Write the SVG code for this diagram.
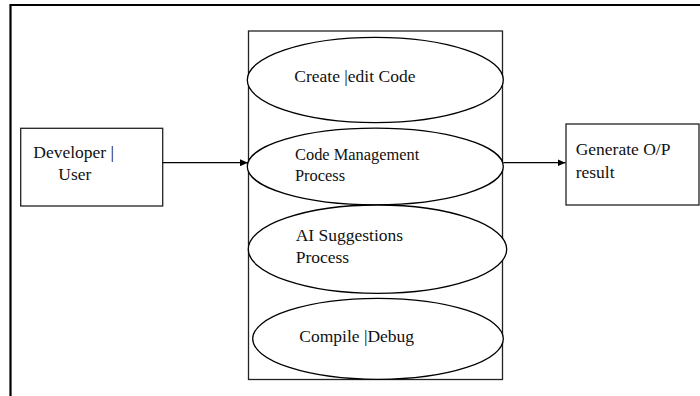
<svg xmlns="http://www.w3.org/2000/svg" width="700" height="396" viewBox="0 0 700 396">
  <style>
    .box { fill: #fff; stroke: #222; stroke-width: 1.3; }
    .proc { fill: #fff; stroke: #000; stroke-width: 1.3; }
    text { font-family: 'Liberation Serif', 'DejaVu Serif', serif; font-size: 17.5px; fill: #111; }
    .small { font-size: 16.4px; }
    .conn { stroke: #000; stroke-width: 1.3; fill: none; }
  </style>
  <defs>
    <marker id="head" viewBox="0 0 8 7" refX="8" refY="3.5" markerWidth="8" markerHeight="7" markerUnits="userSpaceOnUse" orient="auto">
      <path d="M0,0 L8,3.5 L0,7 Z" fill="#000"/>
    </marker>
  </defs>

  <rect width="700" height="396" fill="#fff"/>

  <!-- outer frame, open on the right and bottom -->
  <path d="M10.5,400 L10.5,5 L702,5" fill="none" stroke="#000" stroke-width="2.2"/>

  <!-- system boundary -->
  <g id="system">
    <rect class="box" x="248.5" y="31" width="254" height="348.5"/>
  </g>

  <g id="developer">
    <rect class="box" x="20.7" y="128.3" width="142" height="77.7"/>
    <text x="33.3" y="158" font-family="Liberation Serif, serif">Developer |</text>
    <text x="58.3" y="179.5" font-family="Liberation Serif, serif">User</text>
  </g>

  <g id="create-edit">
    <ellipse class="proc" cx="375.3" cy="80" rx="128" ry="42.7"/>
    <text x="294.3" y="82">Create |edit Code</text>
  </g>

  <g id="code-management">
    <ellipse class="proc" cx="375.3" cy="166.5" rx="128" ry="38.3"/>
    <text class="small" x="295" y="160">Code Management</text>
    <text class="small" x="295" y="180.5">Process</text>
  </g>

  <g id="ai-suggestions">
    <ellipse class="proc" cx="377.5" cy="249.2" rx="129.2" ry="44.2"/>
    <text x="295.7" y="240.7">AI Suggestions</text>
    <text x="295.7" y="262.7">Process</text>
  </g>

  <g id="compile-debug">
    <ellipse class="proc" cx="378" cy="338.8" rx="125.3" ry="40.5"/>
    <text x="299.3" y="341.8">Compile |Debug</text>
  </g>

  <g id="output">
    <rect class="box" x="566" y="124" width="133" height="81"/>
    <text x="575.7" y="155">Generate O/P</text>
    <text x="575.7" y="177.5">result</text>
  </g>

  <g id="connectors">
    <line class="conn" x1="162.7" y1="162.7" x2="248" y2="162.7" marker-end="url(#head)"/>
    <line class="conn" x1="503.3" y1="162.7" x2="565.5" y2="162.7" marker-end="url(#head)"/>
  </g>
</svg>
